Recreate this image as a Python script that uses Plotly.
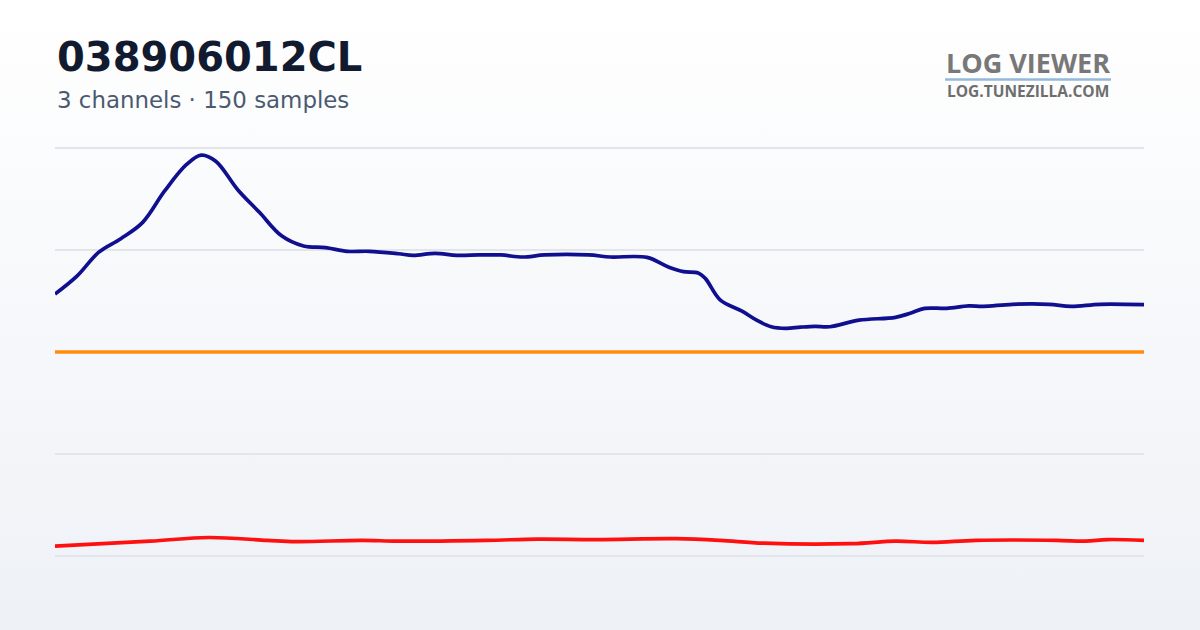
import base64
import plotly.graph_objects as go

# channel readings (sample index, normalised value 0-100)
blue_idx = [0, 3, 6, 9, 12, 15, 18, 20, 22, 25, 28, 31, 34, 37, 40, 43, 47, 49, 52, 55,
            58, 61, 64, 67, 73, 76, 81, 84, 86, 88, 89, 91, 94, 96, 98, 100, 102, 104, 106,
            110, 115, 117, 119, 122, 125, 127, 131, 136, 139, 143, 149]
blue_val = [64.2, 68.6, 74.5, 77.8, 81.8, 89.5, 96.0, 98.3, 96.8, 89.8, 84.2, 78.5, 76.0,
            75.6, 74.7, 74.7, 74.1, 73.7, 74.2, 73.7, 73.8, 73.8, 73.3, 73.8, 73.8, 73.3,
            73.2, 70.8, 69.7, 69.4, 68.0, 62.8, 60.0, 57.8, 56.2, 55.8, 56.1, 56.3, 56.2,
            57.8, 58.5, 59.5, 60.7, 60.7, 61.3, 61.2, 61.7, 61.7, 61.2, 61.7, 61.6]

orange_idx = [0, 149]
orange_val = [50, 50]

red_idx = [0, 13, 21, 29, 33, 42, 47, 59, 66, 74, 85, 91, 97, 109, 115, 120, 126, 137, 141, 144, 149]
red_val = [2.4, 3.6, 4.5, 3.8, 3.5, 3.8, 3.6, 3.8, 4.1, 4.0, 4.2, 3.8, 3.1, 3.0, 3.6, 3.3,
           3.8, 3.8, 3.6, 4.0, 3.8]

grid_vals = [0, 25, 50, 75, 100]

title = "038906012CL"
subtitle = "3 channels · 150 samples"

W, H = 1200, 630
# value 0 -> 555.5px, value 100 -> 148px; pad the range so edge gridlines still draw
unit = (555.5 - 148) / 100
pad = 2
L, R = 55, 56
T = 148 - pad * unit
B = H - (555.5 + pad * unit)
pw, ph = W - L - R, H - T - B

def px_x(p):
    return (p - L) / pw

def px_y(p):
    return (H - B - p) / ph

# soft vertical gradient for the page background
svg = ('<svg xmlns="http://www.w3.org/2000/svg" width="1200" height="630" preserveAspectRatio="none">'
       '<defs><linearGradient id="g" x1="0" y1="0" x2="0" y2="1">'
       '<stop offset="0" stop-color="#ffffff"/><stop offset="1" stop-color="#eef1f6"/>'
       '</linearGradient></defs><rect width="1200" height="630" fill="url(#g)"/></svg>')
bg_uri = "data:image/svg+xml;base64," + base64.b64encode(svg.encode()).decode()

fig = go.Figure()
fig.add_trace(go.Scatter(x=blue_idx, y=blue_val, mode="lines", line=dict(color="#0f0f8f", width=3.7, shape="spline"),
                         hoverinfo="skip"))
fig.add_trace(go.Scatter(x=orange_idx, y=orange_val, mode="lines", line=dict(color="#ff8c0a", width=3.7),
                         hoverinfo="skip"))
fig.add_trace(go.Scatter(x=red_idx, y=red_val, mode="lines", line=dict(color="#ff1010", width=3.7, shape="spline"),
                         hoverinfo="skip"))

fig.update_layout(
    width=W, height=H,
    margin=dict(l=L, r=R, t=T, b=B),
    paper_bgcolor="rgba(0,0,0,0)",
    plot_bgcolor="rgba(0,0,0,0)",
    showlegend=False,
    xaxis=dict(range=[0, 149], showgrid=False, zeroline=False, showticklabels=False, ticks=""),
    yaxis=dict(range=[-pad, 100 + pad], tickvals=grid_vals, showgrid=True, gridcolor="#e2e5ea", gridwidth=1.5,
               zeroline=False, showticklabels=False, ticks=""),
    images=[dict(source=bg_uri, xref="paper", yref="paper", x=px_x(0), y=px_y(0),
                 sizex=W / pw, sizey=H / ph, xanchor="left", yanchor="top",
                 sizing="stretch", layer="below")],
)

# header text
fig.add_annotation(text="<b>" + title + "</b>", xref="paper", yref="paper", x=px_x(55), y=px_y(57),
                   xanchor="left", yanchor="middle", showarrow=False,
                   font=dict(family="DejaVu Sans", size=40, color="#111a2e"))
fig.add_annotation(text=subtitle, xref="paper", yref="paper", x=px_x(55), y=px_y(100),
                   xanchor="left", yanchor="middle", showarrow=False,
                   font=dict(family="DejaVu Sans", size=22.9, color="#4a5a70"))

# logo
fig.add_annotation(text="<b>LOG VIEWER</b>", xref="paper", yref="paper", x=px_x(1027.5), y=px_y(62),
                   xanchor="center", yanchor="middle", showarrow=False,
                   font=dict(family="Open Sans", size=27, color="#787878"))
fig.add_shape(type="line", xref="paper", yref="paper", x0=px_x(945), x1=px_x(1111),
              y0=px_y(79.5), y1=px_y(79.5), line=dict(color="#93b8dc", width=2.5))
fig.add_annotation(text="<b>LOG.TUNEZILLA.COM</b>", xref="paper", yref="paper", x=px_x(1027.5), y=px_y(90.5),
                   xanchor="center", yanchor="middle", showarrow=False,
                   font=dict(family="Open Sans", size=15.5, color="#6e6e6e"))

# drop the default page margin so the figure sits at the window origin
fig.write_html("out.html", config={"displayModeBar": False},
               post_script="document.body.style.margin='0';")
